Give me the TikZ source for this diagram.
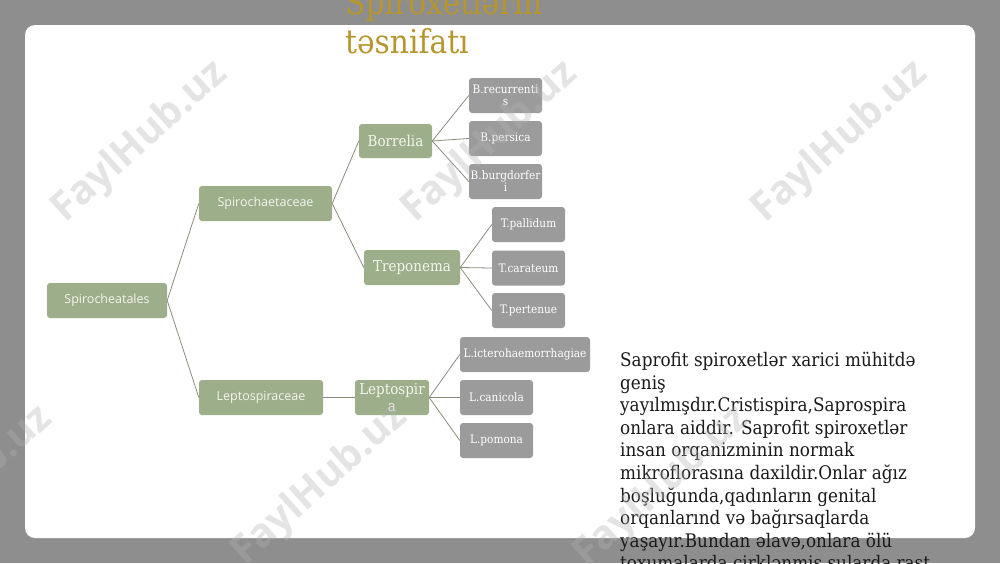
\documentclass[tikz,border=0pt]{standalone}
\usepackage{fontspec}
\setmainfont{DejaVu Serif}
\newfontfamily\osans{Open Sans}
\newfontfamily\nserif[FakeStretch=0.9]{DejaVu Serif}
\definecolor{bggrey}{HTML}{8E8E8E}
\definecolor{boxgreen}{HTML}{9DAE8A}
\definecolor{boxgrey}{HTML}{9B9B9B}
\definecolor{linec}{HTML}{8C8C7E}
\definecolor{titlegold}{HTML}{B8962E}
\definecolor{wmc}{HTML}{B3B3B3}
\definecolor{gtext}{HTML}{F4F6EC}
\definecolor{ptext}{HTML}{1A1A1A}
\tikzset{
  gbox/.style={fill=boxgreen, rounded corners=3pt, text=gtext, inner sep=1pt, align=center},
  lone/.style={gbox, font=\osans\fontsize{12.5}{15}\selectfont},
  ltwo/.style={gbox, font=\nserif\fontsize{15}{17}\selectfont},
  leaf/.style={fill=boxgrey, rounded corners=3pt, text=white, inner sep=1pt, align=center,
    font=\nserif\fontsize{11.7}{12}\selectfont, minimum width=73pt, minimum height=35pt},
  conn/.style={draw=linec, line width=0.8pt},
  wm/.style={font=\osans\bfseries\fontsize{40}{40}\selectfont, text=wmc, opacity=0.35, rotate=42},
  para/.style={font=\nserif\fontsize{18.7}{22.6}\selectfont, text=ptext, align=left, anchor=base west, inner sep=0pt}
}
\begin{document}
\begin{tikzpicture}[x=1pt,y=-1pt]
\useasboundingbox (0,0) rectangle (1000,563);
\clip (0,0) rectangle (1000,563);
\fill[bggrey] (0,0) rectangle (1000,563);
\fill[white, rounded corners=10pt] (25,25) rectangle (975,538);

% title
\node[anchor=base west, inner sep=0pt, text=titlegold, font=\nserif\fontsize{33}{39}\selectfont] (title1) at (345,14) {Spiroxetlərin};
\node[anchor=base west, inner sep=0pt, text=titlegold, font=\nserif\fontsize{33}{39}\selectfont] (title2) at (345,53) {təsnifatı};

% level 1
\node[lone, minimum width=120pt, minimum height=35pt] (root) at (107,300.5) {Spirocheatales};
% level 2
\node[lone, minimum width=133pt, minimum height=35pt] (spc) at (265.5,203.5) {Spirochaetaceae};
\node[lone, minimum width=124pt, minimum height=35pt] (lpc) at (261,397.5) {Leptospiraceae};
% level 3
\node[ltwo, minimum width=73pt, minimum height=34pt] (bor) at (395.5,141) {Borrelia};
\node[ltwo, minimum width=96pt, minimum height=35pt] (tre) at (412,267.5) {Treponema};
\node[ltwo, minimum width=74pt, minimum height=35pt] (lep) at (392,397.5) {Leptospir\\a};
% leaves
\node[leaf] (b1) at (505.5,95.5) {B.recurrenti\\s};
\node[leaf] (b2) at (505.5,138.5) {B.persica};
\node[leaf] (b3) at (505.5,181.5) {B.burgdorfer\\i};
\node[leaf] (t1) at (528.5,224.5) {T.pallidum};
\node[leaf] (t2) at (528.5,268) {T.carateum};
\node[leaf] (t3) at (528.5,310.5) {T.pertenue};
\node[leaf, minimum width=130pt] (l1) at (525,354.5) {L.icterohaemorrhagiae};
\node[leaf] (l2) at (496.5,397.5) {L.canicola};
\node[leaf] (l3) at (496.5,440.5) {L.pomona};

% connectors
\draw[conn] (root.east) -- (spc.west);
\draw[conn] (root.east) -- (lpc.west);
\draw[conn] (spc.east) -- (bor.west);
\draw[conn] (spc.east) -- (tre.west);
\draw[conn] (lpc.east) -- (lep.west);
\draw[conn] (bor.east) -- (b1.west);
\draw[conn] (bor.east) -- (b2.west);
\draw[conn] (bor.east) -- (b3.west);
\draw[conn] (tre.east) -- (t1.west);
\draw[conn] (tre.east) -- (t2.west);
\draw[conn] (tre.east) -- (t3.west);
\draw[conn] (lep.east) -- (l1.west);
\draw[conn] (lep.east) -- (l2.west);
\draw[conn] (lep.east) -- (l3.west);

% paragraph (anchor is the baseline of the last line)
\node[para] (txt) at (620,569.9) {Saprofit spiroxetlər xarici mühitdə\\geniş\\yayılmışdır.Cristispira,Saprospira\\onlara aiddir. Saprofit spiroxetlər\\insan orqanizminin normak\\mikroflorasına daxildir.Onlar ağız\\boşluğunda,qadınların genital\\orqanlarınd və bağırsaqlarda\\yaşayır.Bundan əlavə,onlara ölü\\toxumalarda çirklənmiş sularda rast};

% watermarks
\node[wm] (w1) at (140,142) {FaylHub.uz};
\node[wm] (w2) at (490,142) {FaylHub.uz};
\node[wm] (w3) at (840,142) {FaylHub.uz};
\node[wm] (w4) at (-35,487) {FaylHub.uz};
\node[wm] (w5) at (320,485) {FaylHub.uz};
\node[wm] (w6) at (662,487) {FaylHub.uz};
\end{tikzpicture}
\end{document}
